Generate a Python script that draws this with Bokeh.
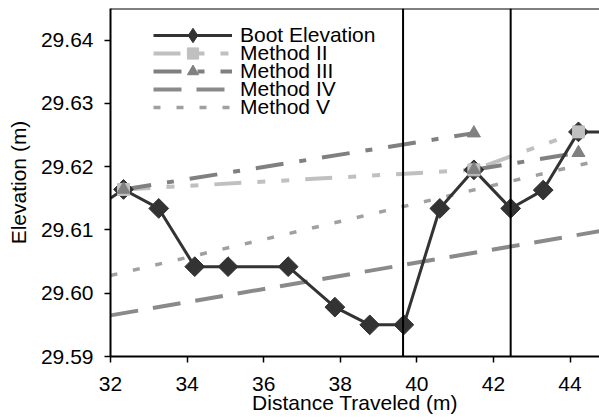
import math
from bokeh.plotting import figure
from bokeh.models import Span, Legend, LegendItem, FixedTicker, PrintfTickFormatter, Range1d
from bokeh.embed import file_html
from bokeh.resources import INLINE

# ---- data ----
boot_x = [31.3, 32.34, 33.26, 34.20, 35.07, 36.64, 37.86, 38.77, 39.66, 40.60, 41.49, 42.45, 43.30, 44.22, 45.2]
boot_y = [29.6122, 29.6164, 29.6134, 29.6042, 29.6042, 29.6042, 29.5978, 29.5950, 29.5950,
          29.6134, 29.6195, 29.6134, 29.6163, 29.6255, 29.6255]

m2_x = [32.34, 41.49, 44.22]
m2_y = [29.6164, 29.6195, 29.6255]

m3a_x = [32.34, 41.49]
m3a_y = [29.6164, 29.6253]
m3b_x = [41.49, 44.22]
m3b_y = [29.6195, 29.6222]

m4_x = [32.0, 44.77]
m4_y = [29.5965, 29.6098]

m5_x = [32.0, 44.77]
m5_y = [29.6028, 29.6210]

event_x = [39.64, 42.45]

x_ticks = [32, 34, 36, 38, 40, 42, 44]
y_ticks = [29.59, 29.60, 29.61, 29.62, 29.63, 29.64]
x_lim = (32, 44.77)
y_lim = (29.59, 29.645)

series_names = ["Boot Elevation", "Method II", "Method III", "Method IV", "Method V"]
x_title = "Distance Traveled (m)"
y_title = "Elevation (m)"

FONT = "Liberation Sans"

p = figure(width=599, height=419, x_range=Range1d(*x_lim), y_range=Range1d(*y_lim),
           output_backend="svg", toolbar_location=None,
           min_border_left=110, min_border_right=0, min_border_top=8, min_border_bottom=63)
p.outline_line_color = None
p.xgrid.visible = False
p.ygrid.visible = False
p.background_fill_color = "white"
p.border_fill_color = "white"

# axes
p.xaxis.ticker = FixedTicker(ticks=x_ticks)
p.yaxis.ticker = FixedTicker(ticks=y_ticks)
p.yaxis.formatter = PrintfTickFormatter(format="%.2f")
p.xaxis.axis_label = x_title
p.yaxis.axis_label = y_title
for ax in (p.xaxis[0], p.yaxis[0]):
    ax.axis_line_color = "black"
    ax.axis_line_width = 2
    ax.major_tick_line_color = "black"
    ax.major_tick_line_width = 1.5
    ax.major_tick_out = 6
    ax.major_tick_in = 0
    ax.minor_tick_line_color = None
    ax.major_label_text_font = FONT
    ax.major_label_text_font_size = "21px"
    ax.major_label_text_color = "black"
    ax.axis_label_text_font = FONT
    ax.axis_label_text_font_size = "21px"
    ax.axis_label_text_font_style = "normal"
    ax.axis_label_text_color = "black"
p.xaxis.major_label_standoff = 14
p.xaxis.axis_label_standoff = -3
p.yaxis.major_label_standoff = 11
p.yaxis.axis_label_standoff = 8

# top frame line
p.add_layout(Span(location=y_lim[1], dimension="width", line_color="black", line_width=2))

# event lines
for ex in event_x:
    p.add_layout(Span(location=ex, dimension="height", line_color="black", line_width=2))

# method lines
r4 = p.line(m4_x, m4_y, line_color="#8a8a8a", line_width=4, line_dash="28 15")
r5 = p.line(m5_x, m5_y, line_color="#a0a0a0", line_width=3.5, line_dash="7 16")
r2l = p.line(m2_x, m2_y, line_color="#c0c0c0", line_width=4, line_dash="27 16 8 16 8 16")
r3l = p.multi_line([m3a_x, m3b_x], [m3a_y, m3b_y], line_color="#808080", line_width=4,
                   line_dash="28 16 7 16")

# boot elevation
rbl = p.line(boot_x, boot_y, line_color="#333333", line_width=3)
# narrow diamonds (hidden under the rotated squares) give the legend its diamond sample
rbd = p.scatter(boot_x, boot_y, marker="diamond", size=14, fill_color="#333333", line_color="#333333")
rbm = p.scatter(boot_x, boot_y, marker="square", size=14, angle=math.pi / 4,
                fill_color="#333333", line_color="#333333")

# method markers
r2m = p.scatter(m2_x, m2_y, marker="square", size=12, fill_color="#c0c0c0", line_color="#c0c0c0")
r3m = p.scatter(m3a_x + m3b_x, m3a_y + m3b_y, marker="triangle", size=13,
                fill_color="#808080", line_color="#808080")

# legend: one single-item legend per row so rows can sit 18px apart
rows = [[rbl, rbd], [r2l, r2m], [r3l, r3m], [r4], [r5]]
glyph_h = [36, 28, 28, 28, 28]
row_centers = [35, 53, 71, 89, 107]   # px from top of the window
frame_bottom = 356
for name, rends, gh, yc in zip(series_names, rows, glyph_h, row_centers):
    vy = frame_bottom - yc - gh / 2
    lg = Legend(items=[LegendItem(label=name, renderers=rends)], location=(43, vy),
                padding=0, margin=0, spacing=0, glyph_width=79, glyph_height=gh,
                label_height=gh, label_standoff=8,
                label_text_font=FONT, label_text_font_size="21px", label_text_color="black",
                border_line_color=None, background_fill_alpha=0)
    p.add_layout(lg)

open("out.html", "w").write(file_html(p, INLINE))
